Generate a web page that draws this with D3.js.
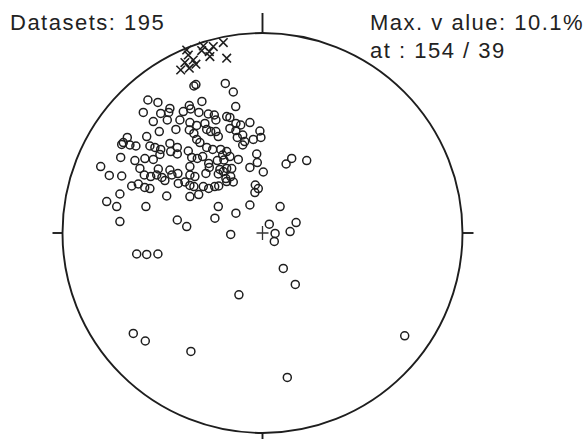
<!DOCTYPE html>
<html>
<head>
<meta charset="utf-8">
<script src="https://cdn.jsdelivr.net/npm/d3@7"></script>
<style>
  html, body { margin:0; padding:0; background:#fff; }
  svg text { font-family: "Liberation Sans", Arial, sans-serif; fill:#222; }
</style>
</head>
<body>
<div id="net"></div>
<script>
// projected positions on the net, primitive circle radius = 100 (east, north)
const poles = [
  [-34.3,73.5],[-33.3,74.2],[-18.6,74.8],[-14.6,70.5],[-57.3,66.5],[-52.3,65.3],[-46.3,62.3],[-46.9,60.3],
  [-36.6,63.7],[-30.3,65.8],[-13.4,63.2],[-59.6,60.3],[-50.9,59.8],[-39.6,60.7],[-35.9,62],[-31.8,60.3],
  [-27.1,59.5],[-24.1,59],[-17.9,58.2],[-16.3,57.8],[-54.6,55.7],[-47.6,56.5],[-41.3,56.5],[-36.3,55.2],
  [-32.9,53.8],[-28.8,54.8],[-23.3,56.5],[-13.3,54.8],[-10.9,54],[-6.3,55.2],[-51.6,50.7],[-43.3,51.8],
  [-36.6,51.5],[-34.3,49.8],[-27.9,51.8],[-25.9,50.7],[-23.3,50.7],[-22.1,48.2],[-16.3,52.3],[-13.3,51.2],
  [-12.6,47.8],[-9.9,49],[-1.3,51],[-0.8,47.8],[-4.6,46.8],[-57.9,48.2],[-67.6,47.8],[-69.6,45.2],
  [-70.4,44.3],[-66.3,44],[-63.3,43.5],[-56.3,43.5],[-53.8,42.8],[-50.9,41.8],[-46.3,44.8],[-42.6,42.8],
  [-32.9,46.8],[-31.3,45.2],[-27.9,42.8],[-24.9,41.8],[-20.9,41.8],[-17.9,40.7],[-16.3,38.2],[-19.9,39],
  [-19.3,36.5],[-9.9,44],[-8.9,45.7],[-2.9,39.5],[-70.9,37.8],[-63.8,36.2],[-58.8,37.2],[-54.6,36.8],
  [-51.3,39.3],[-45.9,40.7],[-42.6,39.5],[-37.1,41],[-35.4,37.8],[-32.6,37.3],[-29.9,38.2],[-12.1,36.8],
  [-80.9,33.2],[-76.6,28.8],[-70.4,28.5],[-61.3,32.3],[-59.1,29],[-55.9,28.2],[-52.1,32],[-52.9,29],
  [-50.3,27.8],[-46.3,31.5],[-45.3,29],[-42.3,29.7],[-36.3,33.2],[-36.3,29],[-33.8,28.2],[-28.3,29.8],
  [-26.9,34.8],[-26.6,32.8],[-22.6,36.2],[-21.3,31.8],[-17.9,32.3],[-15.4,32.2],[-22.1,29.5],[-19.6,30.7],
  [-18.3,27.2],[-15.9,28.2],[-14.6,25.5],[-6.3,32.8],[0.4,30.5],[11.8,34.5],[-65.4,23.5],[-62.1,24.5],
  [-58.9,22.8],[-56.3,22.2],[-48.8,26.2],[-42.1,24.8],[-38.8,25.5],[-36.3,23.8],[-34.3,23.2],[-29.6,23.2],
  [-26.9,22.3],[-23.9,23.2],[-21.9,23.5],[-17.9,25.7],[-3.6,24],[-2.1,22.2],[-71.3,19.5],[-47.9,18.5],
  [-36.3,18.2],[-31.9,19.2],[-77.9,15.7],[-72.9,13.2],[-58.3,13.2],[-22.1,13.2],[-6.3,14],[8.8,13.2],
  [14.6,37.3],[22.1,36.2],[-2.6,35.2],[-3.8,20.2],[-23.8,7.4],[-13.3,9.9],[3.4,4.4],[6.3,-0.2],
  [5.9,-4.2],[16.8,5.2],[13.8,0.7],[-15.9,-0.7],[-71.3,5.7],[-42.6,6.5],[-37.9,3.2],[-62.9,-10.5],
  [-57.9,-10.7],[-52.3,-10.5],[10.4,-17.7],[16.4,-25.7],[-11.8,-30.9],[-64.6,-50.2],[-58.6,-54],
  [-35.8,-59.2],[71.1,-51.4],[12.4,-72.2]
];
const lineations = [
  [-19.6,95.2],[-24.6,93.2],[-29.6,93.5],[-30.4,91.2],[-26.6,90.7],[-37.9,91.5],[-37.1,89],
  [-26.3,88.2],[-17.9,87.4],[-34.6,86.5],[-38.8,85.2],[-33.3,84.4],[-40.9,81.5],[-36.6,82.4]
];
const centre = [[0,0]];
const tickDirs = [0, 90, 180, 270];
const labelLeft = ["Datasets: 195"];
const labelRight = ["Max. v alue: 10.1%", "at : 154 / 39"];

const W = 584, H = 439;
const cx = 262.5, cy = 233, R = 200;
const ink = "#1e1e1e";

const svg = d3.select("#net").append("svg")
  .attr("width", W).attr("height", H);

const x = d3.scaleLinear().domain([-100, 100]).range([cx - R, cx + R]);
const y = d3.scaleLinear().domain([-100, 100]).range([cy + R, cy - R]);

//== primitive circle ==//
svg.append("circle")
  .attr("cx", x(0)).attr("cy", y(0))
  .attr("r", x(100) - x(0))
  .attr("fill", "none").attr("stroke", ink).attr("stroke-width", 1.9);

//== N E S W ticks ==//
const tickLen = {0: 20, 90: 11, 180: 12, 270: 10};
svg.selectAll("line.tick")
  .data(tickDirs)
  .enter()
  .append("line")
  .attr("class", "tick")
  .attr("x1", d => x(100 * Math.sin(d * Math.PI / 180)))
  .attr("y1", d => y(100 * Math.cos(d * Math.PI / 180)))
  .attr("x2", d => x(100 * Math.sin(d * Math.PI / 180)) + tickLen[d] * Math.sin(d * Math.PI / 180))
  .attr("y2", d => y(100 * Math.cos(d * Math.PI / 180)) - tickLen[d] * Math.cos(d * Math.PI / 180))
  .attr("stroke", ink).attr("stroke-width", 1.9);

//== poles (circles) ==//
svg.selectAll("circle.pole")
  .data(poles)
  .enter()
  .append("circle")
  .attr("class", "pole")
  .attr("cx", d => x(d[0]))
  .attr("cy", d => y(d[1]))
  .attr("r", 4)
  .attr("fill", "none")
  .attr("stroke", ink)
  .attr("stroke-width", 1.5);

//== lineations (x) ==//
const xs = 4.3;
const lin = svg.selectAll("g.lin")
  .data(lineations)
  .enter()
  .append("g")
  .attr("class", "lin")
  .attr("transform", d => `translate(${x(d[0])},${y(d[1])})`);
lin.append("path")
  .attr("d", `M${-xs},${-xs}L${xs},${xs}M${-xs},${xs}L${xs},${-xs}`)
  .attr("stroke", ink).attr("stroke-width", 1.6).attr("fill", "none");

//== centre cross ==//
svg.selectAll("path.centre")
  .data(centre)
  .enter()
  .append("path")
  .attr("class", "centre")
  .attr("d", d => `M${x(d[0]) - 6},${y(d[1])}h12M${x(d[0])},${y(d[1]) - 7}v14`)
  .attr("stroke", "#333").attr("stroke-width", 1.3);

//== labels ==//
svg.selectAll("text.left")
  .data(labelLeft)
  .enter()
  .append("text")
  .attr("x", 10).attr("y", (d, i) => 30 + i * 28)
  .attr("font-size", 22).attr("letter-spacing", 1.5)
  .text(d => d);

svg.selectAll("text.right")
  .data(labelRight)
  .enter()
  .append("text")
  .attr("x", 370).attr("y", (d, i) => 30 + i * 28)
  .attr("font-size", 22).attr("letter-spacing", 1.5)
  .text(d => d);
</script>
</body>
</html>
